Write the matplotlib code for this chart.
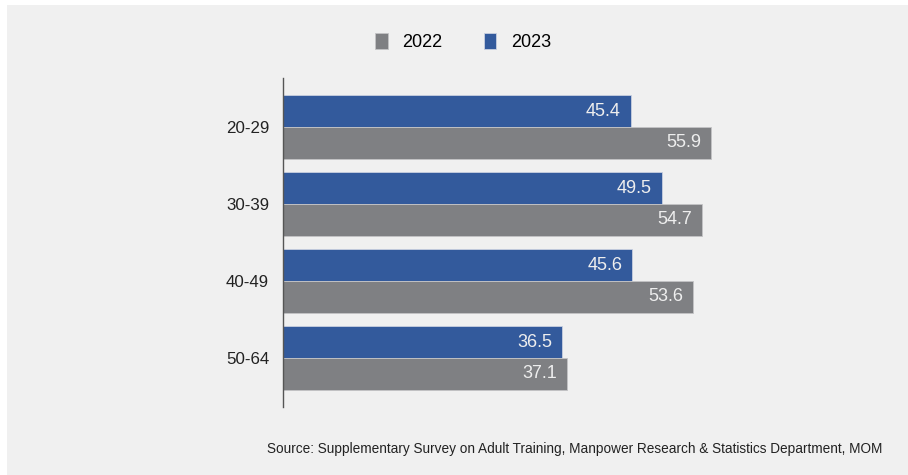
import numpy as np
import matplotlib.pyplot as plt
from matplotlib.patches import Rectangle

plt.rcParams['font.family'] = ['Liberation Sans', 'DejaVu Sans']

faixas = ['20-29', '30-39', '40-49', '50-64']
anos = ['2022', '2023']
valores_2022 = [55.9, 54.7, 53.6, 37.1]
valores_2023 = [45.4, 49.5, 45.6, 36.5]
fonte = 'Source: Supplementary Survey on Adult Training, Manpower Research & Statistics Department, MOM'

cinza = '#7f8083'
azul = '#335a9c'
fundo = '#f0f0f0'

W, H = 908, 475
fig = plt.figure(figsize=(W / 100, H / 100), dpi=100, facecolor='white')
# painel cinza claro atrás de tudo
fig.patches.append(Rectangle((7 / W, 0), 1, 470 / H, transform=fig.transFigure,
                             facecolor=fundo, edgecolor='none', zorder=-1))

ax = fig.add_axes([283 / W, (H - 407) / H, (860 - 283) / W, (407 - 78) / H])
ax.set_facecolor('none')

y = np.arange(len(faixas))
h = 0.41
b23 = ax.barh(y - h / 2, valores_2023, height=h, color=azul, edgecolor='#c8d0e0', linewidth=0.6, label=anos[1])
b22 = ax.barh(y + h / 2, valores_2022, height=h, color=cinza, edgecolor='#c4c4c6', linewidth=0.6, label=anos[0])

for barras in (b23, b22):
    for barra in barras:
        v = barra.get_width()
        ax.text(v - 1.3, barra.get_y() + barra.get_height() / 2, f'{v:.1f}',
                ha='right', va='center', color='#eeeeee', fontsize=13)

ax.set_xlim(0, (860 - 283) / 7.657)
ax.set_ylim(3.636, -0.636)
ax.set_yticks(y)
ax.set_yticklabels(faixas, fontsize=12.2, color='#222222')
ax.tick_params(axis='y', length=0, pad=10)
ax.set_xticks([])
for lado in ['top', 'right', 'bottom']:
    ax.spines[lado].set_visible(False)
ax.spines['left'].set_color('#555555')
ax.spines['left'].set_linewidth(1.0)

handles = [b22, b23]
fig.legend(handles, anos, loc='center', bbox_to_anchor=(463 / W, 1 - 42 / H),
           ncol=2, frameon=False, fontsize=13, handlelength=0.7, handleheight=1.0,
           columnspacing=2.3, handletextpad=0.8)

fig.text(575 / W, 1 - 449 / H, fonte, ha='center', va='center', fontsize=9.8, color='#222222')

plt.savefig('out.png', dpi=100, facecolor=fig.get_facecolor())
